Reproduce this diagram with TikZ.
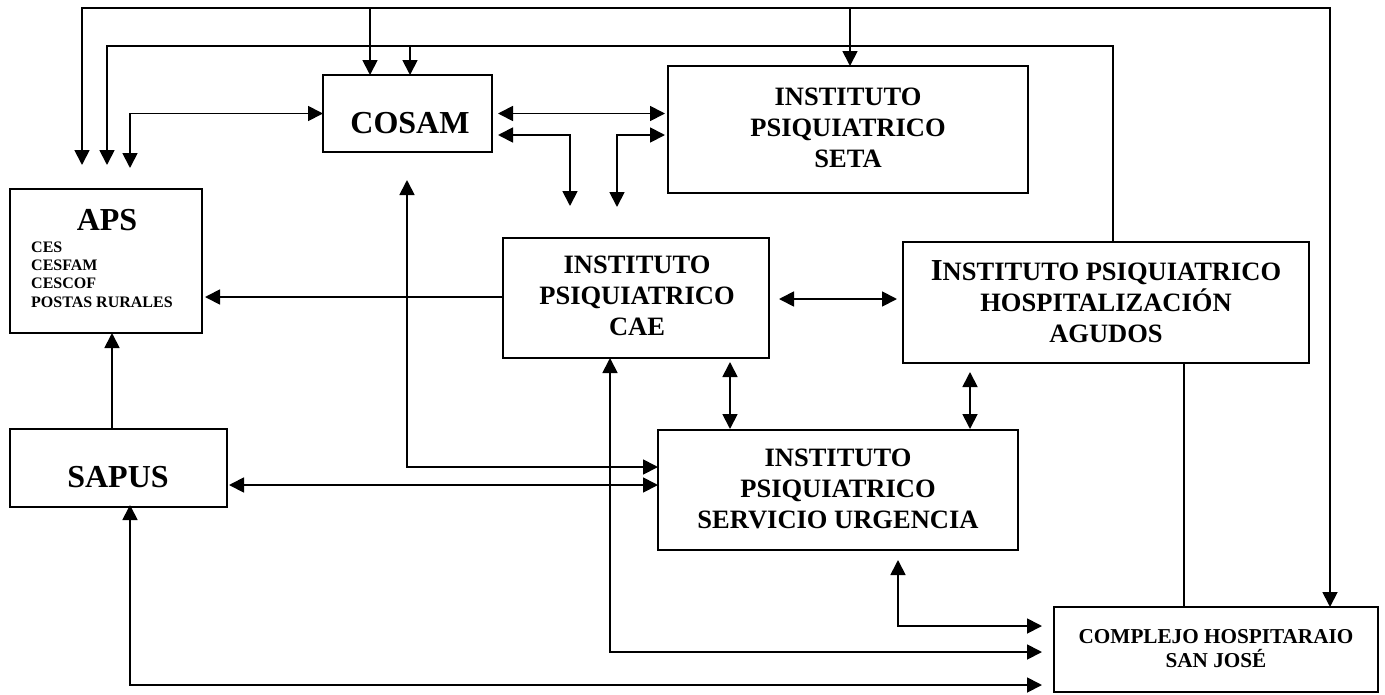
\documentclass[tikz,border=0pt]{standalone}
\usepackage{fontspec}
\setmainfont{Liberation Serif}
\usetikzlibrary{arrows.meta,calc}

\tikzset{
  box/.style={draw, line width=1.8pt, inner sep=0pt, outer sep=0pt, anchor=north west},
  txt/.style={inner sep=0pt, align=center, anchor=north, font=\bfseries\fontsize{26.5}{30.7}\selectfont},
  bigtxt/.style={inner sep=0pt, anchor=base, font=\bfseries\fontsize{32}{32}\selectfont},
  link/.style={line width=1.8pt},
  tip/.style={link, -{Triangle[length=15pt,width=15pt]}},
  tips/.style={link, {Triangle[length=15pt,width=15pt]}-{Triangle[length=15pt,width=15pt]}},
}

\begin{document}
\begin{tikzpicture}[x=1pt,y=-1pt]
        \useasboundingbox (0,0) rectangle (1385,694);

        %Boxes
        \node [box, minimum width=192pt, minimum height=144pt] (aps)   at (10,189)   {};
        \node [box, minimum width=169pt, minimum height=77pt]  (cosam) at (323,75)   {};
        \node [box, minimum width=360pt, minimum height=127pt] (seta)  at (668,66)   {};
        \node [box, minimum width=266pt, minimum height=120pt] (cae)   at (503,238)  {};
        \node [box, minimum width=406pt, minimum height=121pt] (hosp)  at (903,242)  {};
        \node [box, minimum width=217pt, minimum height=78pt]  (sapus) at (10,429)   {};
        \node [box, minimum width=360pt, minimum height=120pt] (urg)   at (658,430)  {};
        \node [box, minimum width=324pt, minimum height=85pt]  (chsj)  at (1054,607) {};

        %Texts
        \node [bigtxt] (aps-t) at (107,230) {APS};
        \node [inner sep=0pt, align=left, anchor=north west,
               font=\bfseries\fontsize{16}{18.3}\selectfont] (aps-l) at (31,241.5)
               {CES\\CESFAM\\CESCOF\\POSTAS RURALES};
        \node [bigtxt] (cosam-t) at (410,133) {COSAM};
        \node [bigtxt] (sapus-t) at (118,487) {SAPUS};
        \node [txt] (seta-t) at (848,88) {INSTITUTO\\PSIQUIATRICO\\SETA};
        \node [txt] (cae-t)  at (637,256) {INSTITUTO\\PSIQUIATRICO\\CAE};
        \node [txt] (urg-t)  at (838,449) {INSTITUTO\\PSIQUIATRICO\\SERVICIO URGENCIA};
        \node [txt] (hosp-t) at (1106,260.7)
              {{\fontsize{30.5}{30.7}\selectfont I}NSTITUTO PSIQUIATRICO\\HOSPITALIZACIÓN\\AGUDOS};
        \node [txt, font=\bfseries\fontsize{21.2}{24}\selectfont] (chsj-t) at (1216,629)
              {COMPLEJO HOSPITARAIO\\SAN JOSÉ};

        %Top lines
        \coordinate (bus1) at (0,8);
        \coordinate (bus2) at (0,46);
        \coordinate (apsA) at (82,165);
        \coordinate (apsB) at (107,165);
        \coordinate (apsC) at (130,168);
        \coordinate (chsjA) at ($(chsj.north east)+(-48,0)$);
        \coordinate (cosamA) at ($(cosam.north west)+(47,0)$);
        \coordinate (cosamB) at ($(cosam.north west)+(87,0)$);
        \coordinate (setaA) at ($(seta.north west)+(182,0)$);
        \coordinate (hospA) at ($(hosp.north west)+(210,0)$);
        \draw [tips] (apsA) -- (apsA |- bus1) -| (chsjA);
        \draw [tip] (cosamA |- bus1) -- (cosamA);
        \draw [tip] (setaA |- bus1) -- (setaA);
        \draw [tip] (hospA) -- (hospA |- bus2) -| (apsB);
        \draw [tip] (cosamB |- bus2) -- (cosamB);

        %COSAM
        \draw [tips] (apsC) |- (cosam.west);
        \draw [tips] ($(cosam.east)+(6,0)$) -- ($(cosam.east -| seta.west)+(-3,0)$);
        \coordinate (cosamR) at ($(cosam.north east)+(6,60)$);
        \coordinate (caeA) at ($(cae.north west)+(67,-32)$);
        \coordinate (caeB) at ($(cae.north west)+(114,-31)$);
        \draw [tips] (cosamR) -| (caeA);
        \draw [tips] ($(seta.west |- cosamR)+(-3,0)$) -| (caeB);
        \draw [tips] ($(cosam.south west)+(84,28)$) |- ($(urg.north west)+(0,37)$);

        %CAE
        \draw [tip] ($(cae.north west)+(0,59)$) -- ($(aps.north east)+(3,108)$);
        \draw [tips] ($(cae.east)+(10,1)$) -- ($(hosp.west)+(-6,-3.5)$);
        \draw [tips] ($(cae.south west)+(227,4)$) -- ($(urg.north west)+(72,-1)$);
        \draw [tips] ($(hosp.south west)+(67,9)$) -- ($(urg.north east)+(-48,-1)$);

        %SAPUS
        \draw [tip] ($(sapus.north west)+(102,0)$) -- ($(aps.south west)+(102,0)$);
        \draw [tips] ($(sapus.north east)+(2,56)$) -- ($(urg.north west)+(0,55)$);

        %Complejo
        \draw [tips] ($(cae.south west)+(107,0)$) |- ($(chsj.north west)+(-12,45)$);
        \draw [tips] ($(urg.south west)+(240,10)$) |- ($(chsj.north west)+(-12,19)$);
        \draw [tips] ($(sapus.south west)+(120,-2)$) |- ($(chsj.north west)+(-12,78)$);
        \coordinate (hospB) at ($(hosp.south west)+(281,0)$);
        \draw [link] (hospB) -- (hospB |- chsj.north);
\end{tikzpicture}
\end{document}
